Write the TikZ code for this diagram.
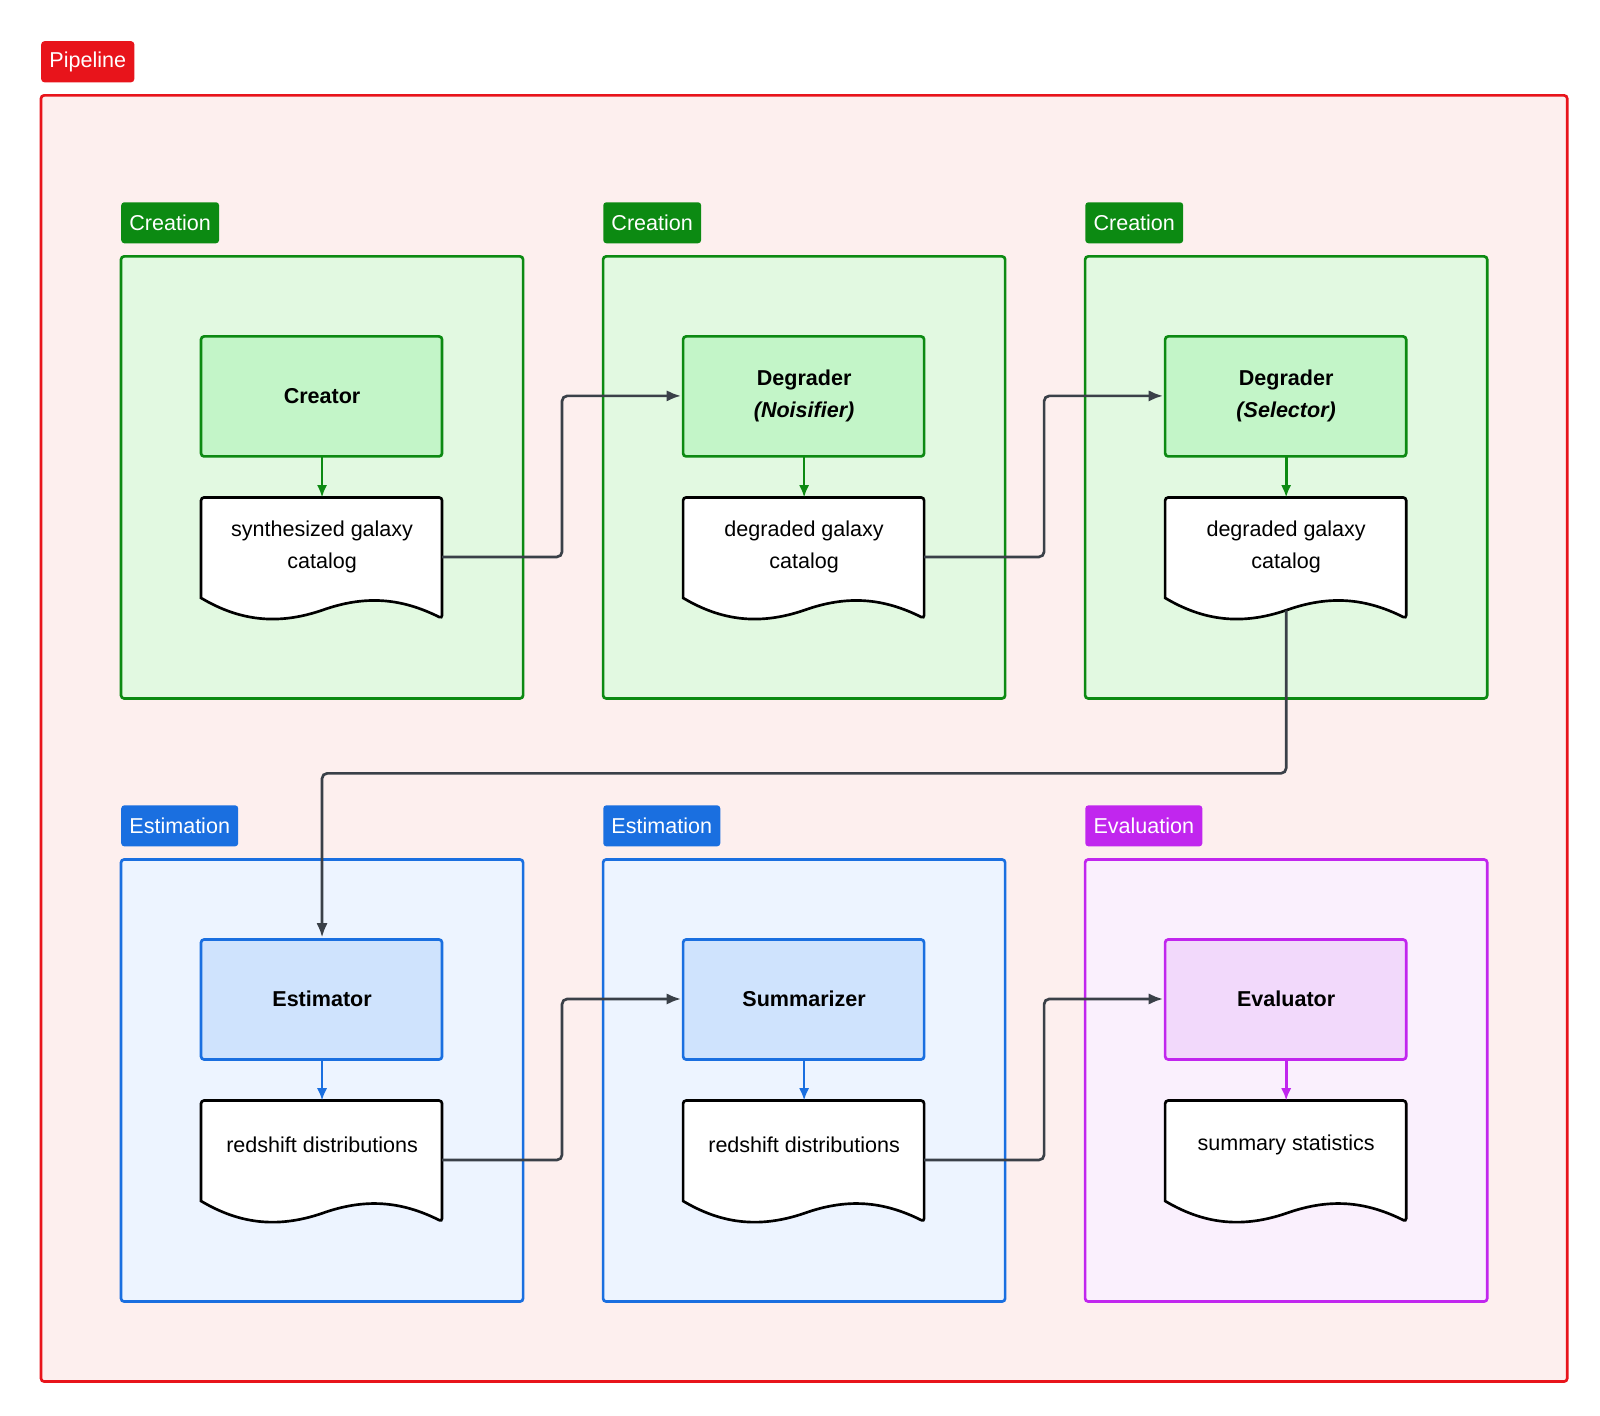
\documentclass[tikz,border=0pt]{standalone}
\usepackage{fontspec}
\setmainfont{Liberation Sans}
\usetikzlibrary{arrows.meta}
\definecolor{redB}{HTML}{E8141B}\definecolor{redF}{HTML}{FDEFEE}
\definecolor{grnB}{HTML}{0C8A12}\definecolor{grnF}{HTML}{E2F9E1}\definecolor{grnP}{HTML}{C3F5C8}
\definecolor{bluB}{HTML}{1A6FE0}\definecolor{bluF}{HTML}{EDF4FF}\definecolor{bluP}{HTML}{CFE3FD}
\definecolor{purB}{HTML}{C126EE}\definecolor{purF}{HTML}{FAF0FD}\definecolor{purP}{HTML}{F2D9FB}
\definecolor{lnk}{HTML}{3A4048}
\tikzset{
 tagbox/.style={fill=#1,text=white,rounded corners=3pt,anchor=north west,inner xsep=8pt,minimum height=40pt,font=\fontsize{21}{24}\selectfont},
 grp/.style={draw=#1,line width=2.6pt,rounded corners=3pt},
 link/.style={draw=lnk,line width=2.6pt,rounded corners=5pt,-{Latex[length=14pt,width=11pt]}},
 sub/.style={draw=#1,line width=2.6pt,-{Latex[length=12pt,width=10pt]}},
 lbl/.style={font=\fontsize{21}{31}\selectfont,align=center}
}
\begin{document}
\begin{tikzpicture}[x=1pt,y=-1pt]
\useasboundingbox (0,0) rectangle (1560,1380);
\node[tagbox=redB] (pt) at (40,40) {Pipeline};
\draw[grp=redB,fill=redF] (40,93) rectangle (1528,1347);
\foreach \gx/\gy/\bc/\fc/\pc/\nm in {
 118/250/grnB/grnF/grnP/a,588/250/grnB/grnF/grnP/b,1058/250/grnB/grnF/grnP/c,
 118/838/bluB/bluF/bluP/d,588/838/bluB/bluF/bluP/e,1058/838/purB/purF/purP/f}{
 \draw[grp=\bc,fill=\fc] (\gx,\gy) rectangle ++(392,431);
 \draw[draw=\bc,fill=\pc,line width=2.6pt,rounded corners=3pt] (\gx+78,\gy+78) rectangle ++(235,117);
 \coordinate (p\nm) at (\gx+196,\gy+136);
 \coordinate (pl\nm) at (\gx+78,\gy+136);
 \coordinate (pb\nm) at (\gx+196,\gy+195);
 \coordinate (dt\nm) at (\gx+196,\gy+235);
 \coordinate (dr\nm) at (\gx+313,\gy+293);
 \coordinate (d\nm) at (\gx+196,\gy+283);
 \draw[draw=black,fill=white,line width=2.6pt,rounded corners=3pt] (\gx+78,\gy+333) -- (\gx+78,\gy+235) -- (\gx+313,\gy+235) -- (\gx+313,\gy+353)[sharp corners] .. controls (\gx+273,\gy+333) and (\gx+238,\gy+330) .. (\gx+196,\gy+345) .. controls (\gx+152,\gy+360) and (\gx+115,\gy+355) .. cycle;
 \draw[sub=\bc] (pb\nm) -- (dt\nm);
}
\node[tagbox=grnB] (ta) at (118,197) {Creation};
\node[tagbox=grnB] (tb) at (588,197) {Creation};
\node[tagbox=grnB] (tc) at (1058,197) {Creation};
\node[tagbox=bluB] (td) at (118,785) {Estimation};
\node[tagbox=bluB] (te) at (588,785) {Estimation};
\node[tagbox=purB] (tf) at (1058,785) {Evaluation};
\node[lbl] (na) at (pa) {\textbf{Creator}};
\node[lbl] (nb) at (pb) {\textbf{Degrader}\\\textbf{\textit{(Noisifier)}}};
\node[lbl] (nc) at (pc) {\textbf{Degrader}\\\textbf{\textit{(Selector)}}};
\node[lbl] (nd) at (pd) {\textbf{Estimator}};
\node[lbl] (ne) at (pe) {\textbf{Summarizer}};
\node[lbl] (nf) at (pf) {\textbf{Evaluator}};
\node[lbl] (ka) at (da) {synthesized galaxy\\catalog};
\node[lbl] (kb) at (db) {degraded galaxy\\catalog};
\node[lbl] (kc) at (dc) {degraded galaxy\\catalog};
\node[lbl] (kd) at ([yshift=5]dd) {redshift distributions};
\node[lbl] (ke) at ([yshift=5]de) {redshift distributions};
\node[lbl] (kf) at ([yshift=5]df) {summary statistics};
\draw[link] (dra) -- (548,543) |- ([xshift=-2]plb);
\draw[link] (drb) -- (1018,543) |- ([xshift=-2]plc);
\draw[link] (drd) -- (548,1131) |- ([xshift=-2]ple);
\draw[link] (dre) -- (1018,1131) |- ([xshift=-2]plf);
\draw[link] (1254,595) -- (1254,754) -- (314,754) -- (314,914);
\end{tikzpicture}
\end{document}
